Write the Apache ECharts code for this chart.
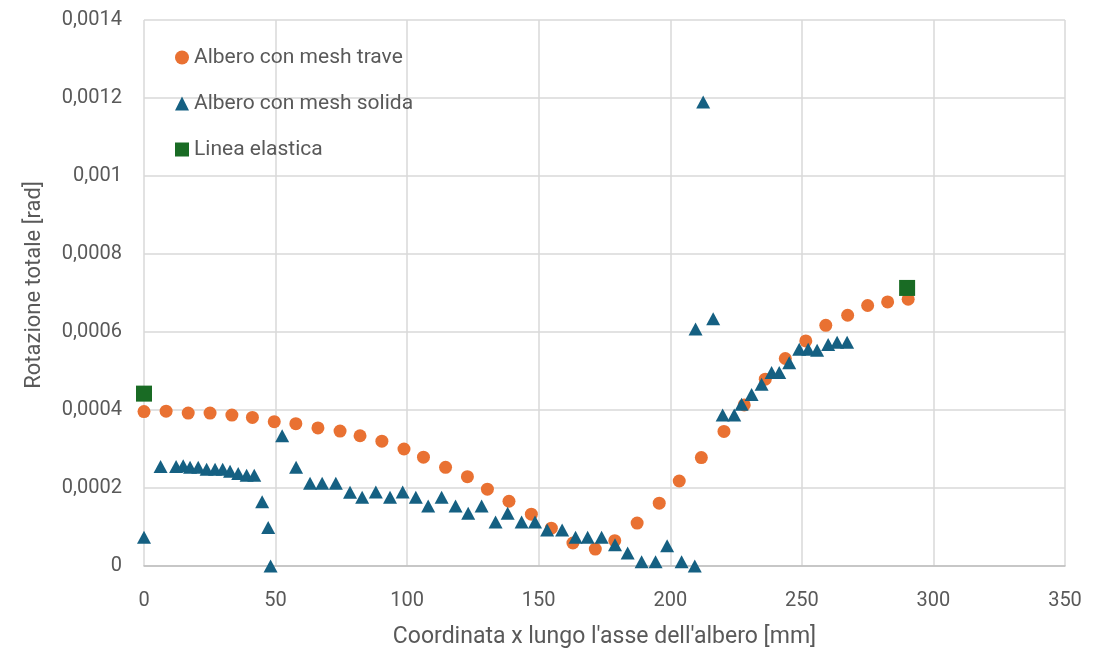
<!DOCTYPE html>
<html>
<head>
<meta charset="utf-8">
<script src="https://cdn.jsdelivr.net/npm/echarts@6/dist/echarts.min.js"></script>
<style>html,body{margin:0;padding:0;background:#fff}#c{width:1109px;height:654px}</style>
</head>
<body>
<div id="c"></div>
<script>
// Albero con mesh trave
const xTrave = [0, 8.4, 16.8, 25.1, 33.4, 41.2, 49.5, 57.7, 66.1, 74.5, 82.1, 90.4, 98.8, 106.2, 114.6, 122.9, 130.5, 138.7, 147.2, 154.8, 163.0, 171.5, 178.9, 187.4, 195.8, 203.4, 211.8, 220.4, 228.1, 236.1, 243.7, 251.5, 259.1, 267.4, 275.0, 282.6, 290.4];
const yTrave = [0.000396, 0.000397, 0.000392, 0.000392, 0.000387, 0.000381, 0.000370, 0.000365, 0.000354, 0.000346, 0.000334, 0.000320, 0.000300, 0.000279, 0.000253, 0.000229, 0.000197, 0.000166, 0.000133, 0.000097, 0.000059, 0.0000435, 0.000065, 0.000110, 0.000161, 0.000218, 0.000278, 0.000345, 0.000413, 0.000479, 0.000532, 0.000577, 0.000617, 0.000643, 0.000668, 0.000677, 0.000684];
// Albero con mesh solida
const xSolida = [0, 6.3, 12.2, 14.9, 17.5, 20.6, 23.8, 27.0, 29.9, 32.7, 35.8, 39.0, 41.9, 44.9, 47.2, 48.1, 52.5, 57.8, 63.1, 67.7, 72.9, 78.3, 82.9, 88.1, 93.5, 98.3, 103.3, 108.0, 113.1, 118.4, 123.2, 128.3, 133.6, 138.2, 143.5, 148.6, 153.2, 158.9, 164.0, 168.6, 173.9, 179.0, 183.8, 189.1, 194.4, 198.8, 204.3, 209.3, 209.6, 212.5, 216.3, 219.9, 224.3, 227.1, 230.9, 234.7, 238.5, 241.4, 245.2, 249.0, 252.4, 255.8, 260.0, 263.4, 267.2];
const ySolida = [0.0000735, 0.000255, 0.000255, 0.000257, 0.000253, 0.000253, 0.000248, 0.000248, 0.000248, 0.000243, 0.000237, 0.000233, 0.000233, 0.000165, 0.000099, 0.0, 0.000334, 0.000253, 0.000212, 0.000212, 0.000212, 0.000189, 0.000176, 0.000190, 0.000176, 0.000190, 0.000176, 0.000154, 0.000176, 0.000154, 0.000135, 0.000154, 0.000113, 0.000135, 0.000113, 0.000113, 0.000092, 0.000092, 0.0000735, 0.0000735, 0.0000735, 0.0000545, 0.0000333, 0.000011, 0.000011, 0.000052, 0.000011, 0.0, 0.000608, 0.00119, 0.000634, 0.000387, 0.000387, 0.000415, 0.00044, 0.000466, 0.000496, 0.000496, 0.000521, 0.000556, 0.000556, 0.000553, 0.000568, 0.000574, 0.000574];
// Linea elastica
const xElastica = [0, 290];
const yElastica = [0.000442, 0.000713];

const xTickLabels = ['0', '50', '100', '150', '200', '250', '300', '350'];
const yTickLabels = ['0', '0,0002', '0,0004', '0,0006', '0,0008', '0,001', '0,0012', '0,0014'];

const names = ['Albero con mesh trave', 'Albero con mesh solida', 'Linea elastica'];
const pair = (xs, ys) => xs.map((x, i) => [x, ys[i]]);
const FONT = 'Roboto, "Liberation Sans", sans-serif';

const chart = echarts.init(document.getElementById('c'), null, {renderer: 'canvas'});
chart.setOption({
  animation: false,
  textStyle: {fontFamily: FONT},
  grid: {left: 144, right: 44, top: 20, bottom: 87},
  legend: {
    orient: 'vertical', left: 170, top: 42, itemGap: 25,
    itemWidth: 14, itemHeight: 14,
    textStyle: {color: '#595959', fontSize: 21, fontFamily: FONT},
    data: [
      {name: names[0], icon: 'circle'},
      {name: names[1], icon: 'triangle'},
      {name: names[2], icon: 'rect'}
    ]
  },
  xAxis: {
    type: 'value', min: 0, max: 350, interval: 50,
    name: "Coordinata x lungo l'asse dell'albero [mm]",
    nameLocation: 'middle', nameGap: 60,
    nameTextStyle: {color: '#595959', fontSize: 23},
    axisLine: {show: true, lineStyle: {color: '#bfbfbf', width: 1.5}},
    axisTick: {show: false},
    axisLabel: {color: '#595959', fontSize: 20, margin: 25,
      formatter: (v) => xTickLabels[Math.round(v / 50)]},
    splitLine: {show: true, lineStyle: {color: '#d9d9d9', width: 1.5}}
  },
  yAxis: {
    type: 'value', min: 0, max: 0.0014, interval: 0.0002,
    name: 'Rotazione totale [rad]',
    nameLocation: 'middle', nameGap: 99, nameRotate: 90,
    nameTextStyle: {color: '#595959', fontSize: 22, padding: [0, 0, 0, 16]},
    axisLine: {show: false},
    axisTick: {show: false},
    axisLabel: {color: '#595959', fontSize: 20, margin: 22,
      formatter: (v) => yTickLabels[Math.round(v / 0.0002)]},
    splitLine: {show: true, lineStyle: {color: '#d9d9d9', width: 1.5}}
  },
  series: [
    {name: names[0], type: 'scatter', symbol: 'circle', symbolSize: 13,
     itemStyle: {color: '#E97132', opacity: 1}, data: pair(xTrave, yTrave), z: 2},
    {name: names[1], type: 'scatter', symbol: 'triangle', symbolSize: [14, 13],
     itemStyle: {color: '#156082', opacity: 1}, data: pair(xSolida, ySolida), z: 3},
    {name: names[2], type: 'scatter', symbol: 'rect', symbolSize: 16,
     itemStyle: {color: '#196B24', opacity: 1}, data: pair(xElastica, yElastica), z: 4}
  ]
});
</script>
</body>
</html>
